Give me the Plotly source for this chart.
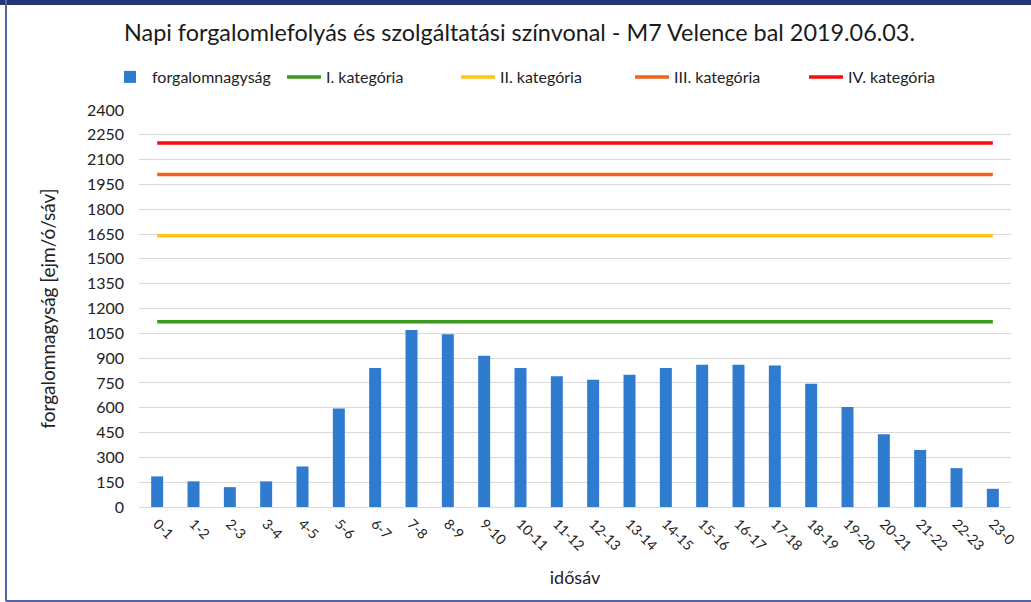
import plotly.graph_objects as go

# adatok
idosav = ['0-1', '1-2', '2-3', '3-4', '4-5', '5-6', '6-7', '7-8', '8-9', '9-10',
          '10-11', '11-12', '12-13', '13-14', '14-15', '15-16', '16-17', '17-18',
          '18-19', '19-20', '20-21', '21-22', '22-23', '23-0']
forgalom = [185, 155, 120, 155, 245, 595, 840, 1070, 1045, 915,
            840, 790, 770, 800, 840, 860, 860, 855,
            745, 605, 440, 345, 235, 110]

kategoriak = ['I. kategória', 'II. kategória', 'III. kategória', 'IV. kategória']
hatarertekek = [1120, 1640, 2010, 2200]
kat_szinek = ['#3C9A1E', '#FFC61A', '#F0641E', '#FF0A0A']

FONT = 'Lato'
W, H = 1031, 602
L, R, T, B = 139, 1011, 110, 507


def px_x(p):
    return (p - L) / (R - L)


def px_y(p):
    return (B - p) / (B - T)


fig = go.Figure()

fig.add_trace(go.Bar(
    x=idosav, y=forgalom, name='forgalomnagyság',
    marker=dict(color='#2E7BCF', line=dict(width=0)),
))

for nev, ertek, szin in zip(kategoriak, hatarertekek, kat_szinek):
    fig.add_trace(go.Scatter(
        x=idosav, y=[ertek] * len(idosav), name=nev, mode='lines',
        line=dict(color=szin, width=3.5),
    ))

fig.update_layout(
    width=W, height=H,
    margin=dict(l=L, r=W - R, t=T, b=H - B),
    paper_bgcolor='white', plot_bgcolor='white',
    font=dict(family=FONT, color='#222222', size=14),
    bargap=0.67,
    showlegend=True,
    legend=dict(
        orientation='h', x=px_x(108), y=px_y(60), xanchor='left', yanchor='top',
        font=dict(size=16, color='#222222'), entrywidth=125, itemwidth=34,
        traceorder='normal',
    ),
    xaxis=dict(
        type='category',
        tickangle=45, tickfont=dict(size=14, color='#222222'),
        showgrid=False, showline=False, ticks='', ticklabelstandoff=5,
        title=dict(text='idősáv', font=dict(size=18, color='#222222'), standoff=18),
    ),
    yaxis=dict(
        range=[0, 2400], tickvals=list(range(0, 2401, 150)),
        tickfont=dict(size=16, color='#222222'), ticklabelstandoff=14,
        gridcolor='#D9D9D9', gridwidth=1.3, zeroline=True, zerolinecolor='#D9D9D9',
        zerolinewidth=1.3, ticks='', ticklen=0,
        title=dict(text='forgalomnagyság [ejm/ó/sáv]', font=dict(size=19, color='#222222'),
                   standoff=26),
    ),
    annotations=[dict(
        text='Napi forgalomlefolyás és szolgáltatási színvonal - M7 Velence bal 2019.06.03.',
        xref='paper', yref='paper', x=px_x(519), y=px_y(32),
        xanchor='center', yanchor='middle', showarrow=False,
        font=dict(size=23.4, color='#1a1a1a', family=FONT),
    )],
    shapes=[
        dict(type='rect', xref='paper', yref='paper', x0=px_x(0), x1=px_x(W),
             y0=px_y(5), y1=px_y(0), fillcolor='#26357A', line=dict(width=0)),
        dict(type='line', xref='paper', yref='paper', x0=px_x(6), x1=px_x(6),
             y0=px_y(0), y1=px_y(601), line=dict(color='#5561A8', width=2)),
        dict(type='line', xref='paper', yref='paper', x0=px_x(6), x1=px_x(W),
             y0=px_y(601), y1=px_y(601), line=dict(color='#5561A8', width=2)),
    ],
)

fig.write_html('out.html', config={'displayModeBar': False},
               post_script="document.body.style.margin='0';")
